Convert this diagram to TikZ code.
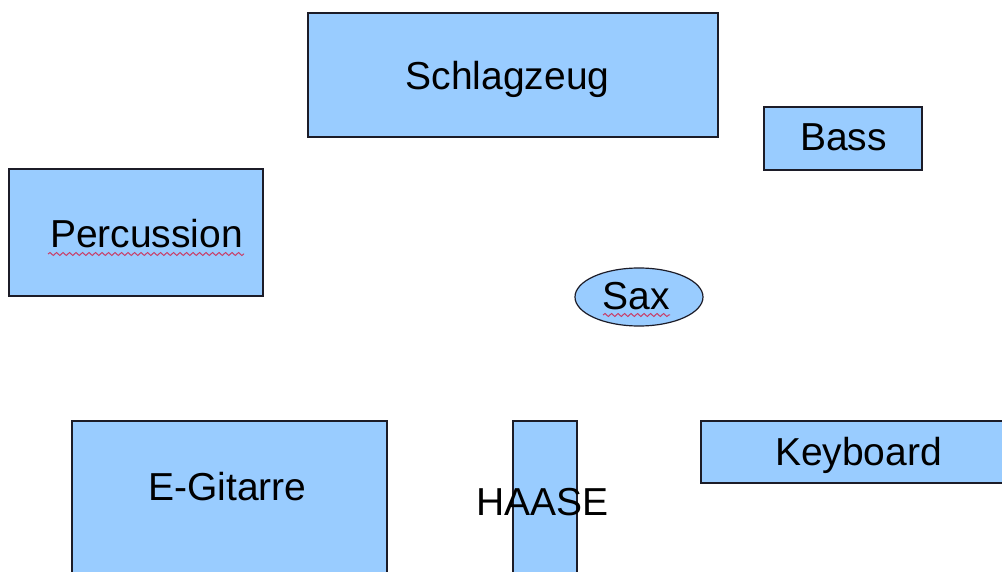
\documentclass[tikz,border=0pt]{standalone}
\usepackage{fontspec}
\setmainfont{Liberation Sans}
\usetikzlibrary{shapes.geometric,decorations.pathmorphing}
\definecolor{boxfill}{HTML}{99CCFF}
\definecolor{boxline}{HTML}{1C1C28}
\definecolor{spell}{HTML}{C8406A}
\begin{document}
\begin{tikzpicture}[x=1pt,y=-1pt,
  box/.style={draw=boxline, fill=boxfill, line width=1.2pt, inner sep=0pt, outer sep=0pt, anchor=north west},
  lbl/.style={font=\fontsize{39}{47}\selectfont, text=black, anchor=base, inner sep=0pt},
  spellwave/.style={draw=spell, line width=1pt, decorate, decoration={snake, amplitude=1.5pt, segment length=6.5pt}}]
\useasboundingbox (0,0) rectangle (1002,572);
\clip (0,0) rectangle (1002,572);
\fill[white] (0,0) rectangle (1002,572);
% boxes
\node[box, rectangle, minimum width=410pt, minimum height=124pt] (schlag) at (308,13) {};
\node[box, rectangle, minimum width=158pt, minimum height=63pt] (bass) at (764,107) {};
\node[box, rectangle, minimum width=254pt, minimum height=127pt] (perc) at (9,169) {};
\node[draw=boxline, fill=boxfill, line width=1.2pt, ellipse, inner sep=0pt, minimum width=128pt, minimum height=58pt] (sax) at (639,297) {};
\node[box, rectangle, minimum width=315pt, minimum height=170pt] (egit) at (72,421) {};
\node[box, rectangle, minimum width=64pt, minimum height=170pt] (haase) at (513,421) {};
\node[box, rectangle, minimum width=320pt, minimum height=62pt] (keyb) at (701,421) {};
% labels
\node[lbl] (tschlag) at (507.5,90) {Schlagzeug};
\node[lbl] (tbass) at (843.5,151) {Bass};
\node[lbl] (tperc) at (146.5,248) {Percussion};
\node[lbl] (tsax) at (636.5,309) {Sax};
\node[lbl] (tegit) at (227.5,500) {E-Gitarre};
\node[lbl] (thaase) at (542.5,515) {HAASE};
\node[lbl] (tkeyb) at (858.5,465) {Keyboard};
% spell-check underlines
\coordinate (pw1) at (48,254);
\coordinate (pw2) at (244,254);
\coordinate (sw1) at (603,315);
\coordinate (sw2) at (670,315);
\draw[spellwave] (pw1) -- (pw2);
\draw[spellwave] (sw1) -- (sw2);
\end{tikzpicture}
\end{document}
